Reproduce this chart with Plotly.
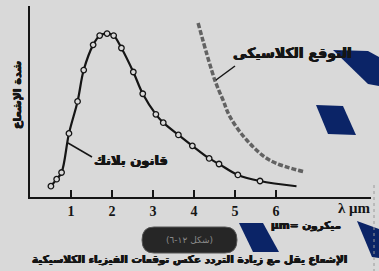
import plotly.graph_objects as go

# ---------------- data ----------------
planck_wavelength = [0.51, 0.65, 0.77, 0.95, 1.16, 1.31, 1.54, 1.70, 1.88, 2.04, 2.23,
                     2.52, 2.75, 3.07, 3.25, 3.62, 3.96, 4.37, 4.61, 5.07, 5.61]
planck_intensity = [6.6, 10.9, 15.0, 38.9, 58.5, 77.7, 93.1, 98.8, 100.0, 98.8, 91.2,
                    76.5, 63.2, 50.6, 45.5, 38.0, 31.3, 23.6, 20.2, 13.5, 9.8]
planck_tail_wavelength = [6.5]
planck_tail_intensity = [6.6]
classical_wavelength = [4.10, 4.51, 4.71, 4.88, 5.29, 5.85, 6.71]
classical_intensity = [106.5, 71.4, 59.2, 49.0, 34.7, 22.5, 15.3]
tick_values = [1, 2, 3, 4, 5, 6]
tick_labels = ["1", "2", "3", "4", "5", "6"]

label_planck = "قانون بلانك"
label_classical = "التوقع الكلاسيكى"
label_yaxis = "شدة الإشعاع"
label_xaxis = "λ μm"
label_unit = "μm= ميكرون"
label_figure = "(شكل ١٢-٦)"
label_caption = "الإشعاع يقل مع زيادة التردد عكس توقعات الفيزياء الكلاسيكية"

# ---------------- layout geometry ----------------
W, H = 379, 271
L, R, T, B = 30, 8, 6, 74
PW = W - L - R
PH = H - T - B
BG = "#d9d9d9"
INK = "#151515"
NAVY = "#0b2467"


def px(x):
    return (x - L) / PW


def py(y):
    return (H - B - y) / PH


def path(points):
    return "M " + " L ".join(f"{px(a):.4f},{py(b):.4f}" for a, b in points) + " Z"


fig = go.Figure()

fig.add_trace(go.Scatter(
    x=classical_wavelength, y=classical_intensity, mode="lines",
    line=dict(color="#626262", width=3.5, dash="5px,2px", shape="spline"),
    hoverinfo="skip", showlegend=False))

fig.add_trace(go.Scatter(
    x=planck_wavelength + planck_tail_wavelength,
    y=planck_intensity + planck_tail_intensity, mode="lines",
    line=dict(color=INK, width=2.2, shape="spline", smoothing=1.0),
    hoverinfo="skip", showlegend=False))

fig.add_trace(go.Scatter(
    x=planck_wavelength, y=planck_intensity, mode="markers",
    marker=dict(symbol="circle", size=5.5, color=BG, line=dict(color=INK, width=1.3)),
    hoverinfo="skip", showlegend=False))

shapes = []
# leader lines
shapes.append(dict(type="line", xref="paper", yref="paper",
                   x0=px(68), y0=py(143), x1=px(92), y1=py(157),
                   line=dict(color=INK, width=1.5)))
shapes.append(dict(type="line", xref="paper", yref="paper",
                   x0=px(216), y0=py(80), x1=px(235), y1=py(66),
                   line=dict(color=INK, width=1.5)))
# figure-number pill
x0, x1, y0, y1, r = 142, 237, 227, 253, 12
pill = (f"M {px(x0 + r)},{py(y0)} L {px(x1 - r)},{py(y0)} "
        f"Q {px(x1)},{py(y0)} {px(x1)},{py((y0 + y1) / 2)} "
        f"Q {px(x1)},{py(y1)} {px(x1 - r)},{py(y1)} "
        f"L {px(x0 + r)},{py(y1)} "
        f"Q {px(x0)},{py(y1)} {px(x0)},{py((y0 + y1) / 2)} "
        f"Q {px(x0)},{py(y0)} {px(x0 + r)},{py(y0)} Z")
shapes.append(dict(type="path", xref="paper", yref="paper", path=pill,
                   fillcolor="#262626", line=dict(color="#555555", width=1)))
# decorative navy parallelograms
for poly in [
    [(333, 50), (368, 51), (379, 57), (379, 86), (368, 84)],
    [(316, 105), (343, 106), (356, 135), (328, 134)],
    [(239, 223), (263, 223), (279, 252), (253, 252)],
    [(357, 221), (379, 229), (379, 258), (372, 257)],
]:
    shapes.append(dict(type="path", xref="paper", yref="paper", path=path(poly),
                       fillcolor=NAVY, line=dict(width=0), layer="above"))
# page edge
shapes.append(dict(type="line", xref="paper", yref="paper",
                   x0=px(374), y0=py(185), x1=px(374), y1=py(271),
                   line=dict(color="#9a9a9a", width=1, dash="dot")))

SH = "0.5px 0 0 #151515, -0.5px 0 0 #151515, 0 0.4px 0 #151515"
AR = dict(family="DejaVu Sans", color=INK, weight="bold", shadow=SH)
annotations = [
    dict(text=label_planck, x=px(131), y=py(160), font=dict(size=13, **AR)),
    dict(text=label_classical, x=px(292), y=py(53), font=dict(size=14, **AR)),
    dict(text=label_yaxis, x=px(17), y=py(95), textangle=-90, font=dict(size=11, **AR)),
    dict(text=label_xaxis, x=px(373), y=py(208), xanchor="right",
         font=dict(size=15, family="Liberation Serif", color=INK, weight="bold")),
    dict(text=label_unit, x=px(306), y=py(225), font=dict(size=10.5, **AR)),
    dict(text=label_figure, x=px(189), y=py(240),
         font=dict(size=9, family="DejaVu Sans", color="#8a8a8a")),
    dict(text=label_caption, x=px(189), y=py(259), font=dict(size=10.5, **AR)),
]
for a in annotations:
    a.setdefault("xanchor", "center")
    a.update(xref="paper", yref="paper", showarrow=False, yanchor="middle")

fig.update_layout(
    width=W, height=H,
    margin=dict(l=L, r=R, t=T, b=B),
    paper_bgcolor=BG, plot_bgcolor=BG,
    shapes=shapes, annotations=annotations,
    showlegend=False,
)
fig.update_xaxes(range=[0, PW / 41], showgrid=False, zeroline=False,
                 showline=True, linecolor=INK, linewidth=2,
                 ticks="inside", ticklen=7, tickwidth=1.5, tickcolor=INK,
                 tickvals=tick_values, ticktext=tick_labels,
                 tickfont=dict(family="Liberation Serif", size=14, color=INK, weight="bold"))
fig.update_yaxes(range=[0, PH / 1.634], showgrid=False, zeroline=False,
                 showline=True, linecolor=INK, linewidth=2,
                 showticklabels=False, ticks="")

fig.write_html("out.html",
               config={"displayModeBar": False, "staticPlot": True},
               post_script="document.body.style.margin='0';document.body.style.padding='0';"
                           "document.body.style.overflow='hidden';")
